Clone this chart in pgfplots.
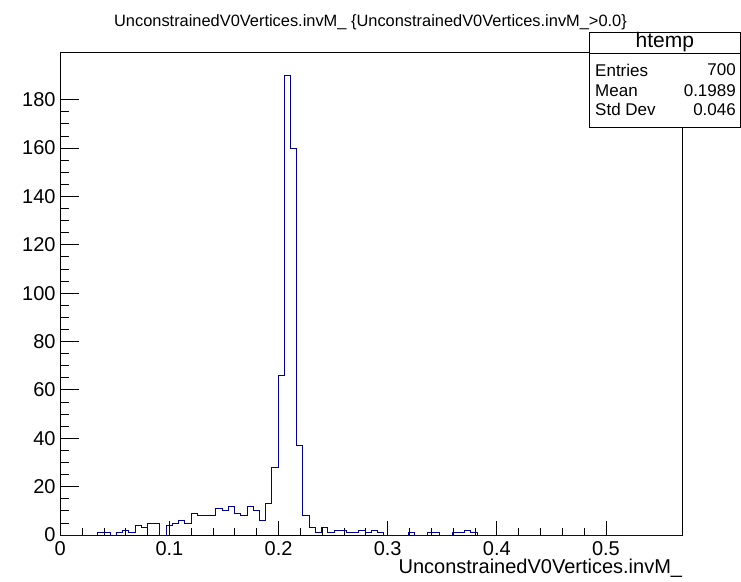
\documentclass[border=0pt]{standalone}
\usepackage{fontspec}
\setmainfont{Liberation Sans}
\usepackage{pgfplots}
\pgfplotsset{compat=1.18}
\definecolor{roothist}{RGB}{0,0,153}

\begin{document}
\begin{tikzpicture}[x=1pt,y=1pt]
\useasboundingbox (0,0) rectangle (741,581);
\begin{axis}[
  at={(60.3pt,46pt)}, anchor=south west,
  width=622pt, height=482.5pt, scale only axis,
  xmin=0, xmax=0.57, ymin=0, ymax=199.5,
  axis line style={line width=0.8pt},
  tick align=inside, xtick pos=lower, ytick pos=left,
  xtick={0,0.1,0.2,0.3,0.4,0.5}, minor x tick num=4,
  ytick={0,20,...,180}, minor y tick num=3,
  every major x tick/.append style={/pgfplots/major tick length=14.5pt},
  every minor x tick/.append style={/pgfplots/minor tick length=7.2pt},
  every major y tick/.append style={/pgfplots/major tick length=18.5pt},
  every minor y tick/.append style={/pgfplots/minor tick length=9pt},
  tick style={black,line width=0.8pt},
  /pgf/number format/assume math mode=true,
  tick label style={font=\fontsize{20}{20}\selectfont, inner sep=0pt},
  xticklabel style={yshift=-6pt},
  yticklabel style={xshift=-4.5pt},
  clip=false,
]
\addplot[roothist, const plot, line width=0.8pt] coordinates {
(0,0) (0.0342,1) (0.0456,0) (0.0513,1) (0.0570,2) (0.0627,1) (0.0684,4)
(0.0741,3) (0.0798,5) (0.0912,0) (0.0969,4) (0.1026,5) (0.1083,6)
(0.1140,5) (0.1197,9) (0.1254,8) (0.1425,11) (0.1482,10) (0.1539,12)
(0.1596,9) (0.1653,8) (0.1710,12) (0.1767,10) (0.1824,6) (0.1881,13)
(0.1938,28) (0.1995,66) (0.2052,190) (0.2109,160) (0.2166,37) (0.2223,8)
(0.2280,3) (0.2337,1) (0.2394,3) (0.2451,1) (0.2508,2) (0.2622,1)
(0.2736,2) (0.2793,1) (0.2850,2) (0.2907,1) (0.2964,0) (0.3192,1)
(0.3249,0) (0.3363,1) (0.3477,0) (0.3591,1) (0.3705,2) (0.3762,1)
(0.3819,0) (0.5700,0)
};
\node[anchor=base east, inner sep=0pt, font=\fontsize{20}{20}\selectfont]
  at (rel axis cs:1,0) [yshift=-38.5pt] {UnconstrainedV0Vertices.invM\_};
\end{axis}
\node[anchor=base, inner sep=0pt, font=\fontsize{16.4}{16.4}\selectfont]
  at (370.5,554.5) {UnconstrainedV0Vertices.invM\_ \{UnconstrainedV0Vertices.invM\_>0.0\}};
% stats box
\draw[fill=white, line width=0.8pt] (589.3,453.7) rectangle (740.5,548.3);
\draw[line width=0.8pt] (589.3,527.7) -- (740.5,527.7);
\node[font=\fontsize{21}{21}\selectfont, inner sep=0pt] at (664.9,538.5) {htemp};
\begin{scope}[every node/.style={font=\fontsize{17}{17}\selectfont, inner sep=0pt}]
\node[anchor=west] at (595,511) {Entries};
\node[anchor=east] at (736,511) {700};
\node[anchor=west] at (595,490.7) {Mean};
\node[anchor=east] at (736,490.7) {0.1989};
\node[anchor=west] at (595,471.7) {Std Dev};
\node[anchor=east] at (736,471.7) {0.046};
\end{scope}
\end{tikzpicture}
\end{document}
